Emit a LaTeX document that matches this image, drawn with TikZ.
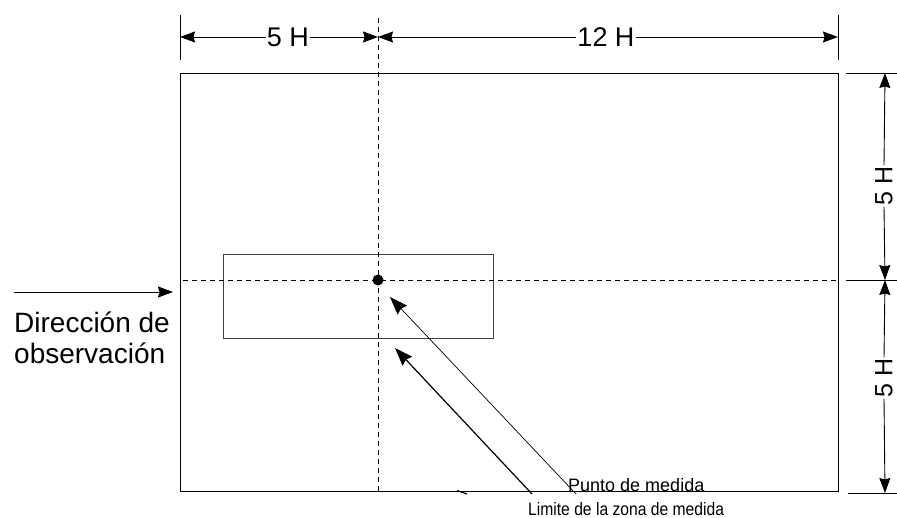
\documentclass[tikz,border=0pt]{standalone}
\usepackage{fontspec}
\setmainfont{Liberation Sans}
\usetikzlibrary{arrows.meta}
\tikzset{
  dimarrow/.style={line width=0.9pt,-{Stealth[length=15pt,width=11pt,inset=1.5pt]}},
  diagarrow/.style={-{Stealth[length=18pt,width=13pt,inset=2pt]}},
  extline/.style={line width=0.9pt},
  axis/.style={line width=0.9pt,dash pattern=on 5pt off 4pt},
  dimlabel/.style={fill=white,inner sep=1pt,font=\fontsize{27}{30}\selectfont},
  sidelabel/.style={fill=white,inner sep=1pt,font=\fontsize{25}{30}\selectfont},
  obslabel/.style={inner sep=0pt,font=\fontsize{28}{32}\selectfont},
  smalllabel/.style={inner sep=0pt,font=\fontsize{18}{21}\selectfont}
}
\begin{document}
\begin{tikzpicture}[x=1pt,y=-1pt]
\useasboundingbox (0,0) rectangle (897,518);
% main rectangle
\node[draw,line width=1.1pt,minimum width=658pt,minimum height=418pt,inner sep=0pt,anchor=north west] (main) at (180,73) {};
% inner rectangle
\node[draw=black!75,line width=1.1pt,minimum width=270pt,minimum height=84pt,inner sep=0pt,anchor=north west] (zone) at (223,254) {};
% axes
\coordinate (vtop) at (378,18);
\coordinate (vbot) at (378,491);
\coordinate (hl) at (183,280);
\coordinate (hr) at (838,280);
\draw[axis] (vtop) -- (vbot);
\draw[axis] (hl) -- (hr);
% point
\node[circle,fill=black,minimum size=11pt,inner sep=0pt] (pt) at (378,280) {};
% top extension lines
\coordinate (etl1) at (180,15); \coordinate (etl2) at (180,60);
\coordinate (etr1) at (838,15); \coordinate (etr2) at (838,60);
\draw[extline] (etl1) -- (etl2);
\draw[extline] (etr1) -- (etr2);
% top dimensions
\coordinate (dl) at (180,37);
\coordinate (dm) at (378,37);
\coordinate (dr) at (838,37);
\node[dimlabel] (l5a) at (288,37) {5 H};
\node[dimlabel] (l12) at (606,37) {12 H};
\draw[dimarrow] (l5a.west) -- (dl);
\draw[dimarrow] (l5a.east) -- (dm);
\draw[dimarrow] (l12.west) -- (dm);
\draw[dimarrow] (l12.east) -- (dr);
% right extension lines
\coordinate (er1a) at (846,73); \coordinate (er1b) at (897,73);
\coordinate (er2a) at (846,280); \coordinate (er2b) at (897,280);
\coordinate (er3a) at (848,493); \coordinate (er3b) at (897,493);
\draw[extline] (er1a) -- (er1b);
\draw[extline] (er2a) -- (er2b);
\draw[extline] (er3a) -- (er3b);
% right dimensions
\coordinate (rt) at (885,73);
\coordinate (rm) at (885,280);
\coordinate (rb) at (885,493);
\node[sidelabel,rotate=90] (l5b) at (884,186) {5 H};
\node[sidelabel,rotate=90] (l5c) at (884,378) {5 H};
\draw[dimarrow] (l5b.east) -- (rt);
\draw[dimarrow] (l5b.west) -- (rm);
\draw[dimarrow] (l5c.east) -- (rm);
\draw[dimarrow] (l5c.west) -- (rb);
% observation direction
\coordinate (obs1) at (14,292);
\coordinate (obs2) at (173,292);
\draw[dimarrow] (obs1) -- (obs2);
\node[obslabel,anchor=base west] (obsa) at (14,333) {Dirección de};
\node[obslabel,anchor=base west] (obsb) at (14,364) {observación};
% bottom labels
\node[smalllabel,anchor=base west] (punto) at (568,491) {Punto de medida};
\node[smalllabel,anchor=base west,xscale=0.87] (limite) at (528,515.5) {Limite de la zona de medida};
\coordinate (pstart) at (576,494);
\coordinate (ptip) at (390,297);
\coordinate (lstart) at (532,494);
\coordinate (ltip) at (395,348);
\draw[diagarrow,line width=0.7pt] (pstart) -- (ptip);
\draw[diagarrow,line width=1.2pt] (lstart) -- (ltip);
% small mark
\coordinate (m1) at (457,490.5);
\coordinate (m2) at (467,494);
\draw[line width=1.2pt] (m1) -- (m2);
\end{tikzpicture}
\end{document}
